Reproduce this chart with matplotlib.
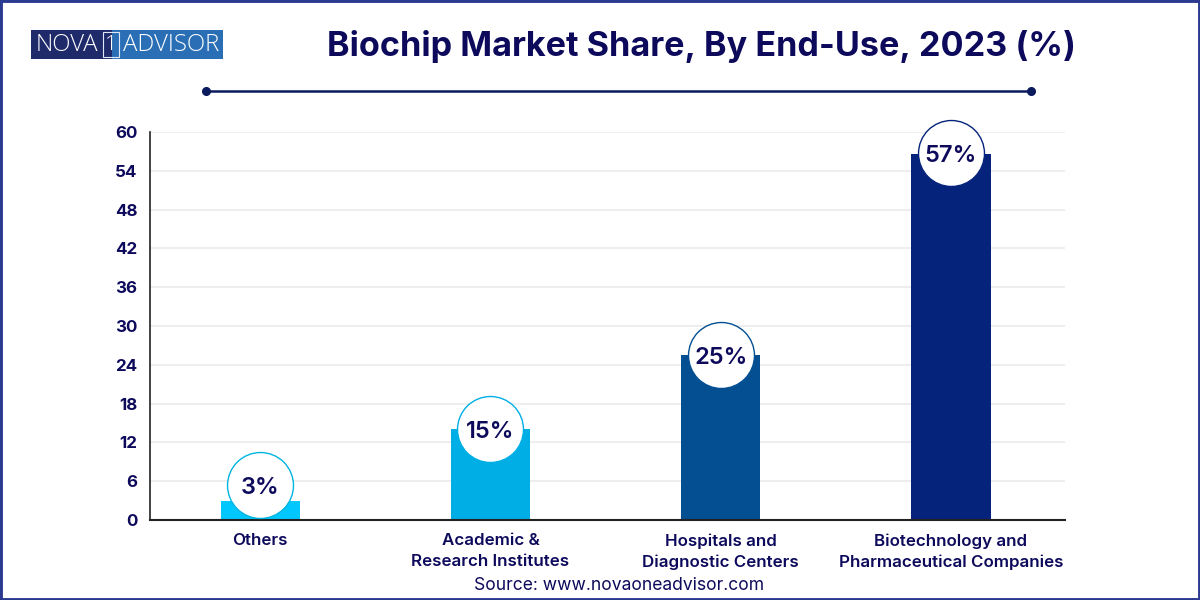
#!/usr/bin/env python
"""
Biochip market share by end-use, bar chart with round value badges
"""

import matplotlib
matplotlib.use('Agg')
import matplotlib.pyplot as plt
from matplotlib.patches import Rectangle
from matplotlib.lines import Line2D

categories = ['Others', 'Academic &\nResearch Institutes', 'Hospitals and\nDiagnostic Centers',
              'Biotechnology and\nPharmaceutical Companies']
bar_heights = [3, 14, 25.5, 56.6]
badge_labels = ['3%', '15%', '25%', '57%']
badge_centers = [5.4, 14, 25.5, 56.8]
bar_colors = ['#00c8ff', '#00aee6', '#034f92', '#06237b']
badge_edges = ['#00b4e0', '#00aee6', '#034f92', '#06237b']
yticks = [0, 6, 12, 18, 24, 30, 36, 42, 48, 54, 60]

NAVY = '#0d0a5c'
W, H = 1200, 600

plt.rcParams['font.family'] = ['Inter', 'Liberation Sans', 'DejaVu Sans']

fig = plt.figure(figsize=(12, 6), dpi=100)


def fx(px):
    return px / W


def fy(py):
    return 1 - py / H


# Outer frame
fig.add_artist(Rectangle((0, 0), 1, 1, transform=fig.transFigure, fill=False,
                         edgecolor='#2b3990', linewidth=3.5))

# Logo
fig.add_artist(Rectangle((fx(31), fy(59)), 81 / W, 29 / H, transform=fig.transFigure,
                         facecolor='#1f2a6b', edgecolor='none'))
fig.add_artist(Rectangle((fx(112), fy(59)), 111 / W, 29 / H, transform=fig.transFigure,
                         facecolor='#2a6fb5', edgecolor='none'))
fig.add_artist(Rectangle((fx(102.5), fy(57)), 16 / W, 25 / H, transform=fig.transFigure,
                         fill=False, edgecolor='#dfe6f5', linewidth=0.8))
logo_font = ['Open Sans', 'DejaVu Sans']
fig.text(fx(66.5), fy(45), 'NOVA', color='white', fontsize=17.3, ha='center', va='center',
         family=logo_font, fontweight='light')
fig.text(fx(111), fy(45), '1', color='white', fontsize=15, ha='center', va='center',
         family=logo_font, fontweight='light')
fig.text(fx(171), fy(45), 'ADVISOR', color='white', fontsize=17.3, ha='center', va='center',
         family=logo_font, fontweight='light')

# Title and rule under it
fig.text(fx(701), fy(46.5), 'Biochip Market Share, By End-Use, 2023 (%)', color=NAVY,
         fontsize=24.6, fontweight='bold', ha='center', va='center')
fig.add_artist(Line2D([fx(206), fx(1031)], [fy(90.5), fy(90.5)], transform=fig.transFigure,
                      color='#0b1a5c', linewidth=1.8, marker='o', markersize=5.5,
                      markevery=[0, 1]))

ax = fig.add_axes([fx(150), fy(520), 915 / W, 388 / H])
positions = list(range(len(categories)))

ax.bar(positions, bar_heights, width=79 / 230.3, color=bar_colors, zorder=2)
for x, y, label, edge in zip(positions, badge_centers, badge_labels, badge_edges):
    ax.scatter([x], [y], s=2256, facecolor='white', edgecolor=edge, linewidth=1,
               zorder=3, clip_on=False)
    ax.text(x, y - 0.45, label, color=NAVY, fontsize=17, fontweight='semibold', ha='center',
            va='center', zorder=4)

ax.set_xlim(-0.478, 3.495)
ax.set_ylim(0, 60)
ax.set_yticks(yticks)
ax.set_xticks(positions)
ax.set_xticklabels(categories, color=NAVY, fontsize=12.2, fontweight='semibold', linespacing=1.45)
ax.tick_params(axis='x', length=0, pad=9.5)
ax.tick_params(axis='y', length=0, pad=9, labelcolor=NAVY)
for label in ax.get_yticklabels():
    label.set_fontsize(12.2)
    label.set_fontweight('bold')

ax.grid(axis='y', color='#eeeeee', linewidth=1.5, zorder=0)
ax.set_axisbelow(True)
ax.spines['top'].set_visible(False)
ax.spines['right'].set_visible(False)
ax.spines['left'].set_color('#222222')
ax.spines['bottom'].set_color('#222222')
ax.spines['left'].set_linewidth(1.2)
ax.spines['bottom'].set_linewidth(1.5)

fig.text(fx(619), fy(585), 'Source: www.novaoneadvisor.com', color=NAVY, fontsize=12.6,
         ha='center', va='center')

fig.savefig('out.png', dpi=100)
